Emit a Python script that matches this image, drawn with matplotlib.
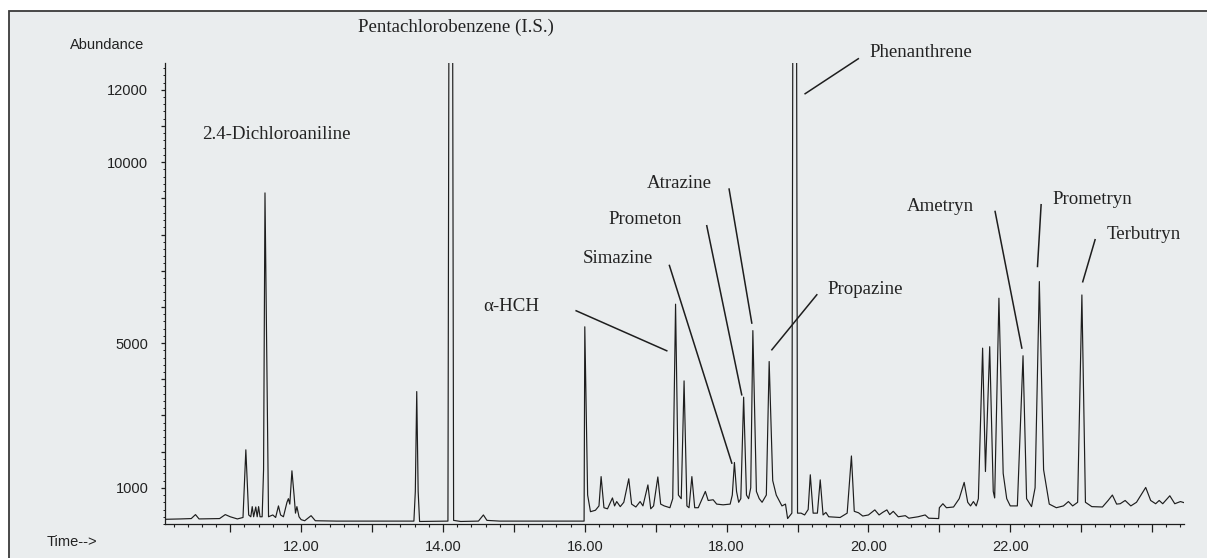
import matplotlib
matplotlib.use("Agg")
import matplotlib.pyplot as plt
from matplotlib.patches import Rectangle
from matplotlib.ticker import MultipleLocator

# === data (time in min, abundance) ===
times = [
    10.08, 10.30, 10.45, 10.51, 10.56, 10.85, 10.93, 11.00, 11.10, 11.18,
    11.22, 11.26, 11.29, 11.31, 11.33, 11.36, 11.38, 11.40, 11.42, 11.45,
    11.47, 11.49, 11.52, 11.54, 11.60, 11.64, 11.68, 11.71, 11.75, 11.80,
    11.82, 11.84, 11.87, 11.90, 11.92, 11.94, 11.97, 12.00, 12.05, 12.14,
    12.20, 12.50, 13.00, 13.59, 13.61, 13.63, 13.65, 13.67, 14.07, 14.11,
    14.15, 14.25, 14.50, 14.57, 14.62, 14.80, 15.99, 16.00, 16.04, 16.08,
    16.15, 16.20, 16.23, 16.27, 16.32, 16.39, 16.42, 16.45, 16.50, 16.55,
    16.62, 16.66, 16.72, 16.78, 16.82, 16.89, 16.93, 16.97, 17.03, 17.07,
    17.12, 17.16, 17.20, 17.24, 17.28, 17.32, 17.36, 17.40, 17.44, 17.47,
    17.51, 17.55, 17.60, 17.70, 17.74, 17.81, 17.86, 17.95, 18.05, 18.08,
    18.11, 18.14, 18.17, 18.20, 18.24, 18.28, 18.31, 18.34, 18.37, 18.42,
    18.46, 18.50, 18.56, 18.60, 18.65, 18.70, 18.78, 18.83, 18.86, 18.92,
    18.96, 19.00, 19.05, 19.10, 19.15, 19.18, 19.22, 19.28, 19.32, 19.36,
    19.40, 19.44, 19.60, 19.70, 19.76, 19.80, 19.86, 19.92, 20.00, 20.09,
    20.15, 20.20, 20.26, 20.30, 20.35, 20.42, 20.52, 20.57, 20.70, 20.80,
    20.85, 20.99, 21.00, 21.05, 21.10, 21.20, 21.28, 21.35, 21.40, 21.44,
    21.48, 21.52, 21.55, 21.61, 21.65, 21.71, 21.76, 21.78, 21.84, 21.90,
    21.95, 22.00, 22.10, 22.18, 22.23, 22.30, 22.35, 22.41, 22.47, 22.55,
    22.65, 22.75, 22.82, 22.88, 22.95, 23.01, 23.06, 23.15, 23.30, 23.38,
    23.44, 23.50, 23.55, 23.62, 23.70, 23.78, 23.91, 23.98, 24.05, 24.10,
    24.15, 24.25, 24.32, 24.40, 24.45,
]
abundance = [
    130, 140, 150, 260, 140, 150, 260, 200, 140, 180,
    2050, 250, 200, 480, 200, 470, 200, 480, 200, 200,
    1500, 9150, 3800, 200, 250, 180, 500, 250, 200, 600,
    700, 550, 1470, 800, 300, 480, 200, 120, 90, 230,
    90, 80, 80, 80, 900, 3660, 900, 70, 80, 40000,
    100, 70, 80, 250, 100, 80, 80, 5450, 800, 340,
    380, 500, 1310, 450, 420, 720, 500, 620, 480, 600,
    1250, 550, 470, 620, 500, 1080, 420, 500, 1300, 550,
    500, 475, 450, 700, 6075, 800, 700, 3955, 500, 450,
    1310, 450, 450, 900, 650, 670, 550, 530, 550, 800,
    1700, 900, 600, 700, 3505, 800, 700, 1000, 5345, 900,
    700, 600, 800, 4490, 1200, 800, 500, 550, 150, 300,
    40000, 300, 300, 250, 400, 1360, 300, 300, 1220, 250,
    320, 200, 180, 300, 1880, 350, 310, 220, 250, 390,
    250, 320, 390, 260, 350, 200, 230, 160, 200, 250,
    160, 150, 450, 560, 450, 470, 700, 1150, 600, 500,
    620, 500, 700, 4860, 1450, 4900, 900, 720, 6240, 1400,
    700, 500, 500, 4650, 700, 480, 1000, 6700, 1500, 550,
    450, 500, 620, 500, 600, 6330, 600, 480, 470, 650,
    800, 550, 560, 650, 500, 600, 1010, 650, 560, 650,
    560, 780, 560, 620, 590,
]

x_major = [11, 12, 13, 14, 15, 16, 17, 18, 19, 20, 21, 22, 23, 24]
x_labels = ["", "12.00", "", "14.00", "", "16.00", "", "18.00", "", "20.00", "", "22.00", "", ""]
y_major = [1000, 2000, 3000, 4000, 5000, 6000, 7000, 8000, 9000, 10000, 11000, 12000]
y_labels = ["1000", "", "", "", "5000", "", "", "", "", "10000", "", "12000"]

compounds = ["Pentachlorobenzene (I.S.)", "2.4-Dichloroaniline", "α-HCH", "Simazine",
             "Prometon", "Atrazine", "Phenanthrene", "Propazine", "Ametryn",
             "Prometryn", "Terbutryn"]

# label placement (time, abundance) and leader lines ((t1, v1), (t2, v2))
label_pos = [(12.80, 13715), (10.60, 10757), (14.57, 6003), (15.97, 7330),
             (16.34, 8408), (16.88, 9403), (20.01, 13023), (19.42, 6473),
             (20.54, 8767), (22.59, 8961), (23.36, 7993)]
leaders = [None, None,
           ((15.878, 5893), (17.156, 4787)),
           ((17.193, 7145), (18.073, 1683)),
           ((17.72, 8242), (18.213, 3571)),
           ((18.035, 9256), (18.355, 5553)),
           ((19.857, 12858), (19.107, 11891)),
           ((19.272, 6335), (18.638, 4815)),
           ((21.786, 8637), (22.163, 4862)),
           ((22.435, 8823), (22.384, 7117)),
           ((23.196, 7856), (23.022, 6694))]

bg = "#eaedee"
ink = "#1e1e1e"

fig = plt.figure(figsize=(12.07, 5.58), dpi=100, facecolor="white")

# grey panel with border on top and left (cropped at right/bottom)
panel = fig.add_axes([0, 0, 1, 1], zorder=-5)
panel.set_axis_off()
panel.add_patch(Rectangle((9 / 1207, -0.05), 1.2, (547 / 558) + 0.05,
                          transform=panel.transAxes, facecolor=bg,
                          edgecolor="#3a3a3a", linewidth=1.3, clip_on=False))

ax = fig.add_axes([165 / 1207, (558 - 524) / 558, (1184 - 165) / 1207, (524 - 63) / 558])
ax.set_facecolor("none")
ax.plot(times, abundance, color=ink, linewidth=0.85, clip_on=True)

ax.set_xlim(10.08, 24.45)
ax.set_ylim(0, 12740)

for s in ["top", "right"]:
    ax.spines[s].set_visible(False)
for s in ["left", "bottom"]:
    ax.spines[s].set_color(ink)
    ax.spines[s].set_linewidth(0.9)

sans = "Liberation Sans"
serif = "Liberation Serif"

ax.set_xticks(x_major)
ax.set_xticklabels(x_labels, fontfamily=sans, fontsize=10.5, color="#222222")
ax.xaxis.set_minor_locator(MultipleLocator(0.2))
ax.tick_params(axis="x", which="major", length=5.5, width=0.9, color=ink, pad=6)
ax.tick_params(axis="x", which="minor", length=2.2, width=0.8, color=ink)

ax.set_yticks(y_major)
ax.set_yticklabels(y_labels, fontfamily=sans, fontsize=10.5, color="#222222")
ax.yaxis.set_minor_locator(MultipleLocator(200))
ax.tick_params(axis="y", which="major", length=3, width=0.9, color=ink, pad=9)
ax.tick_params(axis="y", which="minor", length=1.6, width=0.7, color=ink)

fig.text(70 / 1207, 1 - 45 / 558, "Abundance", fontfamily=sans, fontsize=10.5,
         color="#222222", va="center", ha="left")
fig.text(47 / 1207, 1 - 542 / 558, "Time-->", fontfamily=sans, fontsize=10.5,
         color="#222222", va="center", ha="left")

for name, (tx, ty), ld in zip(compounds, label_pos, leaders):
    ax.text(tx, ty, name, fontfamily=[serif, "DejaVu Serif"], fontsize=13.6,
            color="#222222", ha="left", va="center", clip_on=False)
    if ld is not None:
        (t1, v1), (t2, v2) = ld
        ax.plot([t1, t2], [v1, v2], color=ink, linewidth=1.1, clip_on=False)

plt.savefig("out.png", dpi=100, facecolor="white")
